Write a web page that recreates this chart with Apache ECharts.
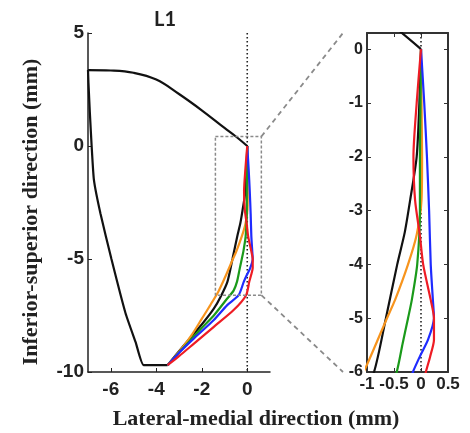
<!DOCTYPE html>
<html><head><meta charset="utf-8">
<script src="https://cdn.jsdelivr.net/npm/echarts@6/dist/echarts.min.js"></script>
<style>html,body{margin:0;padding:0;background:#fff}#c{width:470px;height:433px}</style>
</head><body><div id="c"></div>
<script>
// Vertebral outline (black): inferior edge and lateral side, then the superior arc
const outlineSide = [[-3.5,-9.7],[-4.55,-9.7],[-4.9,-8.7],[-5.35,-7.4],[-5.97,-5],[-6.45,-3],[-6.74,-1.5],
  [-6.84,0],[-6.92,1.5],[-6.98,2.8],[-7,3.36]];
const outlineArc = [[-7,3.36],[-6,3.34],[-5,3.24],[-4,2.94],[-3,2.3],[-2,1.58],[-1,0.8],[-0.5,0.42],[0,0]];
// Medial contours for each condition: [lateral-medial, inferior-superior] in mm
const contourBlack = [[0,0],[-0.03,-1],[-0.08,-2],[-0.2,-2.8],[-0.3,-3.4],[-0.44,-4],[-0.65,-5],[-0.87,-6],
  [-1.17,-6.67],[-1.47,-7.2],[-2.0,-7.9],[-2.6,-8.6],[-3.1,-9.2],[-3.5,-9.7]];
const contourOrange = [[0,0],[0.01,-1],[0.02,-2],[0.01,-2.8],[-0.08,-3.45],[-0.24,-4],[-0.48,-4.66],[-0.63,-5],
  [-0.95,-5.75],[-1.25,-6.4],[-1.6,-7.0],[-2.0,-7.65],[-2.4,-8.3],[-2.95,-9.05],[-3.5,-9.7]];
const contourGreen = [[0,0],[-0.01,-1],[-0.02,-2],[-0.02,-3],[-0.07,-4],[-0.17,-4.66],[-0.24,-5],[-0.34,-5.47],
  [-0.45,-6],[-0.6,-6.4],[-0.88,-6.75],[-1.47,-7.5],[-2.0,-8.05],[-2.6,-8.7],[-3.5,-9.7]];
const contourBlue = [[0,0],[0.06,-1],[0.11,-2],[0.15,-3],[0.18,-4],[0.22,-4.66],[0.24,-5],[0.13,-5.4],
  [-0.02,-5.71],[-0.15,-6],[-0.38,-6.6],[-0.88,-7.04],[-1.47,-7.7],[-2.33,-8.5],[-3.0,-9.15],[-3.5,-9.7]];
const contourRed = [[0,0],[-0.08,-1],[-0.14,-2],[-0.11,-2.8],[-0.02,-3.47],[0.04,-4],[0.18,-4.66],[0.24,-5],
  [0.24,-5.4],[0.17,-5.71],[0.09,-6],[-0.05,-6.6],[-0.6,-7.26],[-1.47,-8.0],[-2.33,-8.73],[-3.0,-9.3],[-3.5,-9.7]];

const mainXTicks = [-6,-4,-2,0];
const zoomBoxX = [-1.4, 0.62];
const zoomBoxY = [-6.6, 0.42];

const colors = {black:'#111', orange:'#f7941d', green:'#1a9a1a', blue:'#1f2bff', red:'#ee1c24'};
const contours = [
  ['black', contourBlack], ['orange', contourOrange], ['green', contourGreen],
  ['blue', contourBlue], ['red', contourRed]
];

const chart = echarts.init(document.getElementById('c'), null, {renderer:'canvas'});

const tickFont = {fontFamily:'Liberation Sans, Arial, sans-serif', fontWeight:'bold', color:'#222'};

function lineSeries(name, data, color, xi, yi, extra) {
  return Object.assign({
    name, type:'line', data, xAxisIndex:xi, yAxisIndex:yi, showSymbol:false, symbol:'none',
    clip:true, silent:true, animation:false,
    lineStyle:{color, width:2.2}
  }, extra || {});
}

function seriesFor(xi, yi, zeroTop, zeroBottom) {
  const s = [];
  s.push(lineSeries('zero', [[0, zeroTop],[0, zeroBottom]], '#222', xi, yi,
    {lineStyle:{color:'#222', width:1.6, type:[1.5,2.5]}}));
  s.push(lineSeries('outlineSide', outlineSide, colors.black, xi, yi, {smooth:0.15}));
  s.push(lineSeries('outlineArc', outlineArc, colors.black, xi, yi, {smooth:0.4}));
  contours.forEach(([k, d]) => s.push(lineSeries(k, d, colors[k], xi, yi, {smooth:0.25})));
  return s;
}

const series = [].concat(
  seriesFor(0, 0, 5, -10),
  seriesFor(1, 1, 0.3, -6)
);
series.push(lineSeries('zoomBox', [[zoomBoxX[0],zoomBoxY[1]],[zoomBoxX[1],zoomBoxY[1]],[zoomBoxX[1],zoomBoxY[0]],
  [zoomBoxX[0],zoomBoxY[0]],[zoomBoxX[0],zoomBoxY[1]]], '#888', 0, 0,
  {lineStyle:{color:'#8a8a8a', width:1.5, type:[3,2]}}));

const option = {
  backgroundColor:'#fff',
  animation:false,
  title:{text:'L1', left:149, top:5,
    textStyle:{fontFamily:'Lato, "Open Sans", sans-serif', fontWeight:'bold', fontSize:20, color:'#222'}},
  grid:[
    {left:88, top:33, width:182, height:339},
    {left:367, top:33, width:81, height:339}
  ],
  xAxis:[
    {gridIndex:0, type:'value', min:-7, max:1, position:'bottom',
      axisLine:{onZero:false, lineStyle:{color:'#222', width:1.5}},
      axisTick:{inside:true, length:4, customValues:mainXTicks, lineStyle:{color:'#222'}},
      axisLabel:Object.assign({customValues:mainXTicks, fontSize:19, margin:8}, tickFont),
      splitLine:{show:false}},
    {gridIndex:1, type:'value', min:-1, max:0.5, interval:0.5, position:'bottom',
      axisLine:{onZero:false, lineStyle:{color:'#333', width:2}},
      axisTick:{inside:true, length:4, lineStyle:{color:'#333'}},
      axisLabel:Object.assign({fontSize:17, margin:4, showMinLabel:true, showMaxLabel:true}, tickFont),
      splitLine:{show:false}},
    {gridIndex:1, type:'value', min:-1, max:0.5, interval:0.5, position:'top',
      axisLine:{onZero:false, lineStyle:{color:'#333', width:2}},
      axisTick:{inside:true, length:4, lineStyle:{color:'#333'}},
      axisLabel:{show:false}, splitLine:{show:false}}
  ],
  yAxis:[
    {gridIndex:0, type:'value', min:-10, max:5, interval:5, position:'left',
      axisLine:{show:true, onZero:false, lineStyle:{color:'#222', width:1.5}},
      axisTick:{show:true, inside:true, length:4, lineStyle:{color:'#222'}},
      axisLabel:Object.assign({fontSize:19, margin:4}, tickFont),
      splitLine:{show:false}},
    {gridIndex:1, type:'value', min:-6, max:0.3, interval:1, position:'left',
      axisLine:{show:true, onZero:false, lineStyle:{color:'#333', width:2}},
      axisTick:{show:true, inside:true, length:4, lineStyle:{color:'#333'}},
      axisLabel:Object.assign({fontSize:16, margin:4, showMaxLabel:false}, tickFont),
      splitLine:{show:false}},
    {gridIndex:1, type:'value', min:-6, max:0.3, interval:1, position:'right',
      axisLine:{show:true, onZero:false, lineStyle:{color:'#333', width:2}},
      axisTick:{show:true, inside:true, length:4, lineStyle:{color:'#333'}},
      axisLabel:{show:false}, splitLine:{show:false}}
  ],
  series
};
chart.setOption(option);

// Dashed leader lines from the zoom box in the main panel to the inset panel
const boxTop = chart.convertToPixel({gridIndex:0}, [zoomBoxX[1], zoomBoxY[1]]);
const boxBot = chart.convertToPixel({gridIndex:0}, [zoomBoxX[1], zoomBoxY[0]]);
const insetTop = chart.convertToPixel({gridIndex:1}, [-1, 0.3]);
const insetBot = chart.convertToPixel({gridIndex:1}, [-1, -6]);
const gap = 24;
const leader = {stroke:'#8a8a8a', lineWidth:1.8, lineDash:[5,4]};
chart.setOption({
  graphic:[
    {type:'line', shape:{x1:boxTop[0], y1:boxTop[1], x2:insetTop[0]-gap, y2:insetTop[1]}, style:leader, silent:true},
    {type:'line', shape:{x1:boxBot[0], y1:boxBot[1], x2:insetBot[0]-gap, y2:insetBot[1]}, style:leader, silent:true},
    {type:'text', x:256, y:419, style:{text:'Lateral-medial direction (mm)',
      textAlign:'center', textVerticalAlign:'middle',
      font:'bold 22px "Liberation Serif", "Times New Roman", serif', fill:'#222'}, silent:true},
    {type:'text', x:31, y:212, rotation:Math.PI/2, style:{text:'Inferior-superior direction (mm)',
      textAlign:'center', textVerticalAlign:'middle',
      font:'bold 22px "Liberation Serif", "Times New Roman", serif', fill:'#222'}, silent:true}
  ]
});
</script>
</body></html>
